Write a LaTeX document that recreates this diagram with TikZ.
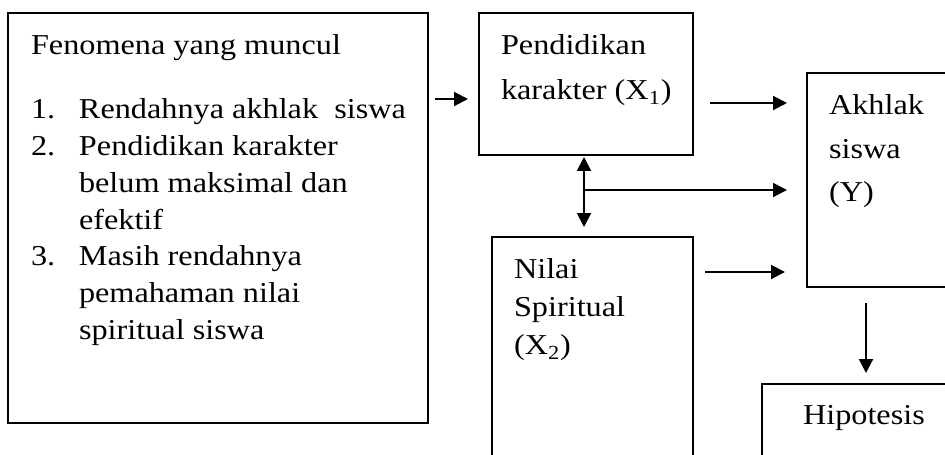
\documentclass[tikz,border=0pt]{standalone}
\usepackage{fontspec}
\setmainfont{Liberation Serif}[FakeStretch=1.12]
\usetikzlibrary{arrows.meta}

\begin{document}
\begin{tikzpicture}[
            x = 0.5pt, y = -0.5pt, % one unit = one pixel of the scan
            > = {Triangle[length=7pt,width=7pt]}, % arrow head style
            line width = 1pt
        ]

        \tikzstyle{box}=[
            draw,
            rectangle,
            anchor = north west,
            inner sep = 0pt,
            outer sep = 0pt
        ]
        \tikzstyle{txt}=[
            anchor = north west,
            inner sep = 0pt,
            align = left
        ]

        \useasboundingbox (0,0) rectangle (945,454);
        \clip (0,0) rectangle (945,454);

        % boxes
        \node[box, minimum width=210pt, minimum height=205pt] (fen) at (8,13) {};
        \node[box, minimum width=107pt, minimum height=71pt] (x1) at (479,13) {};
        \node[box, minimum width=100pt, minimum height=107pt] (akh) at (807,73) {};
        \node[box, minimum width=100.5pt, minimum height=130pt] (x2) at (492,237) {};
        \node[box, minimum width=110pt, minimum height=60pt] (hip) at (762,384) {};

        % texts
        \node[txt, font=\fontsize{14.4}{18.35}\selectfont] (fenhead) at (30,34) {Fenomena yang muncul};
        \node[txt, font=\fontsize{14.4}{18.35}\selectfont] (fenlist) at (30,98) {%
            \makebox[24pt][l]{1.}Rendahnya akhlak~ siswa\\
            \makebox[24pt][l]{2.}Pendidikan karakter\\
            \makebox[24pt][l]{}belum maksimal dan\\
            \makebox[24pt][l]{}efektif\\
            \makebox[24pt][l]{3.}Masih rendahnya\\
            \makebox[24pt][l]{}pemahaman nilai\\
            \makebox[24pt][l]{}spiritual siswa};
        \node[txt, font=\fontsize{14.4}{22.5}\selectfont] (x1text) at (500,34) {Pendidikan\\karakter (X\textsubscript{1})};
        \node[txt, font=\fontsize{14.4}{21.75}\selectfont] (akhtext) at (828,94) {Akhlak\\siswa\\(Y)};
        \node[txt, font=\fontsize{14.4}{19}\selectfont] (x2text) at (513,258) {Nilai\\Spiritual\\(X\textsubscript{2})};
        \node[txt, font=\fontsize{14.4}{18.35}\selectfont] (hiptext) at (802,404) {Hipotesis};

        % connectors
        \coordinate (br) at (584,190);
        \draw[->, shorten <=3.5pt, shorten >=5.5pt] (fen.east |- 0,99) -- (x1.west |- 0,99);
        \draw[->, shorten <=8.5pt, shorten >=10pt] (x1.east |- 0,103) -- (akh.west |- 0,103);
        \draw[<->, shorten <=1pt, shorten >=5pt] (x1.south -| br) -- (x2.north -| br);
        \draw[->, shorten >=10pt] (br) -- (akh.west |- br);
        \draw[->, shorten <=6pt, shorten >=11pt] (x2.east |- 0,272) -- (akh.west |- 0,272);
        \draw[->, shorten <=8pt, shorten >=5.5pt] (akh.south -| 866,0) -- (hip.north -| 866,0);

    \end{tikzpicture}
\end{document}
